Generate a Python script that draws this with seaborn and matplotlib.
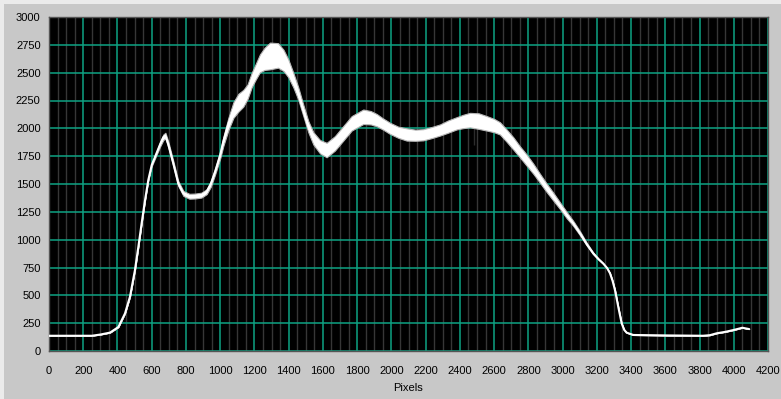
import numpy as np
import pandas as pd
import matplotlib
matplotlib.use("Agg")
import matplotlib.pyplot as plt
import seaborn as sns
from matplotlib.patches import Rectangle
from matplotlib.ticker import MultipleLocator

# ---- data ----
pixels = [0, 250, 300, 356, 405, 444, 473, 502, 522, 541,
          561, 580, 600, 629, 650, 668, 680, 697, 726, 755,
          785, 820, 853, 890, 921, 945, 970, 1000, 1018, 1048,
          1077, 1106, 1135, 1160, 1184, 1208, 1232, 1260, 1291, 1338,
          1370, 1398, 1427, 1456, 1485, 1515, 1544, 1583, 1622, 1670,
          1719, 1768, 1836, 1880, 1914, 1950, 1992, 2040, 2089, 2140,
          2186, 2235, 2284, 2330, 2381, 2420, 2459, 2510, 2557, 2600,
          2634, 2670, 2712, 2750, 2790, 2830, 2868, 2905, 2946, 2985,
          3024, 3062, 3102, 3141, 3179, 3210, 3238, 3260, 3277, 3292,
          3306, 3325, 3345, 3360, 3374, 3413, 3600, 3750, 3820, 3860,
          3900, 3950, 4000, 4050, 4090]
intensity = [137, 137, 148, 165, 215, 338, 488, 727, 937, 1146,
             1356, 1536, 1670, 1780, 1860, 1920, 1935, 1855, 1685, 1505,
             1415, 1390, 1392, 1400, 1431, 1500, 1610, 1760, 1880, 2040,
             2164, 2230, 2270, 2330, 2434, 2510, 2584, 2625, 2650, 2655,
             2610, 2539, 2434, 2314, 2164, 2014, 1910, 1835, 1805, 1865,
             1955, 2045, 2104, 2095, 2074, 2040, 2000, 1965, 1945, 1938,
             1942, 1962, 1985, 2015, 2045, 2062, 2074, 2065, 2045, 2025,
             2000, 1940, 1865, 1790, 1715, 1635, 1551, 1470, 1386, 1305,
             1221, 1147, 1057, 960, 877, 825, 785, 745, 698, 630,
             548, 398, 249, 190, 165, 144, 140, 138, 137, 142,
             159, 172, 189, 209, 197]
# half-width of the noise band around the curve
noise = [0, 0, 0, 0, 0, 0, 0, 0, 0, 0,
         3, 5, 10, 15, 20, 25, 25, 25, 22, 22,
         22, 22, 22, 22, 22, 25, 25, 30, 40, 55,
         70, 80, 75, 65, 65, 70, 80, 100, 120, 110,
         95, 80, 65, 55, 50, 50, 55, 60, 65, 65,
         65, 65, 65, 60, 55, 50, 50, 50, 55, 50,
         50, 50, 50, 55, 55, 60, 65, 70, 65, 60,
         55, 55, 55, 50, 50, 45, 40, 38, 35, 30,
         28, 22, 18, 12, 8, 5, 3, 0, 0, 0,
         0, 0, 0, 0, 0, 0, 0, 0, 0, 0,
         0, 0, 0, 0, 0]
spike_x = [2482, 2482]
spike_y = [2074, 1850]

x_ticks = list(range(0, 4201, 200))
y_ticks = list(range(0, 3001, 250))

df = pd.DataFrame({"Pixels": pixels, "Intensity": intensity, "noise": noise})
df["lo"] = df["Intensity"] - df["noise"]
df["hi"] = df["Intensity"] + df["noise"]

# ---- style ----
W, H = 781, 399
sns.set_style("dark", {"axes.facecolor": "black", "figure.facecolor": "#c8c8c8"})
plt.rcParams["font.family"] = ["Liberation Sans", "DejaVu Sans"]

fig = plt.figure(figsize=(W / 100, H / 100), dpi=100)
fig.patch.set_facecolor("#c8c8c8")
# bevel strips on top and left
fig.add_artist(Rectangle((0, 1 - 4 / H), 1, 4 / H, transform=fig.transFigure,
                         facecolor="#ebebeb", edgecolor="none", zorder=0))
fig.add_artist(Rectangle((0, 0), 4 / W, 1, transform=fig.transFigure,
                         facecolor="#ebebeb", edgecolor="none", zorder=0))

ax = fig.add_axes([49 / W, 1 - 351 / H, (768 - 49) / W, (351 - 17) / H])
ax.set_facecolor("black")

ax.set_xlim(0, 4200)
ax.set_ylim(0, 3000)
ax.xaxis.set_minor_locator(MultipleLocator(50))
ax.grid(which="minor", axis="x", color="#363636", linewidth=1.0, zorder=0)
ax.set_xticks(x_ticks)
ax.set_yticks(y_ticks)
ax.grid(which="major", color="#0ea383", linewidth=1.1, zorder=1)
ax.set_axisbelow(True)

ax.fill_between(df["Pixels"], df["lo"], df["hi"], facecolor="white",
                edgecolor="#b8b8b8", linewidth=0.8, zorder=3)
sns.lineplot(data=df, x="Pixels", y="Intensity", color="white", linewidth=1.5,
             ax=ax, zorder=4, sort=False)
sns.lineplot(x=spike_x, y=spike_y, color="#dddddd", linewidth=1.0, ax=ax, zorder=4)

ax.tick_params(axis="x", which="major", direction="out", length=6, width=1,
               color="#202020", labelsize=8, pad=5, labelcolor="black")
ax.tick_params(axis="x", which="minor", length=0)
ax.tick_params(axis="y", which="major", direction="out", length=5, width=1,
               color="#202020", labelsize=8, pad=1, labelcolor="black")
ax.set_xticklabels([str(t) for t in x_ticks])
ax.set_yticklabels([str(t) for t in y_ticks])
ax.set_xlabel("Pixels", fontsize=8, labelpad=5, color="black")
ax.set_ylabel("")
for s in ax.spines.values():
    s.set_color("#555555")
    s.set_linewidth(1)

fig.savefig("out.png", dpi=100, facecolor=fig.get_facecolor())
